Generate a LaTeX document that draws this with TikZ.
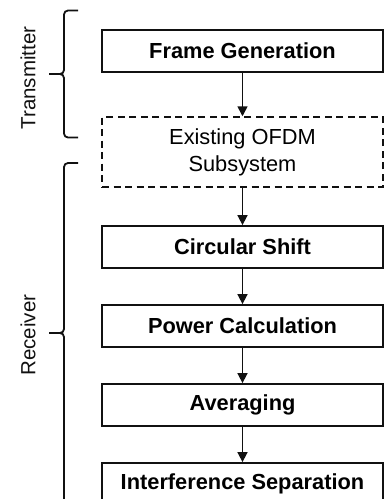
\documentclass[tikz,border=0pt]{standalone}
\usepackage{fontspec}
\setmainfont{Liberation Sans}
\usepackage{tikz}
\usetikzlibrary{
    arrows.meta,
    positioning
}
\definecolor{ink}{HTML}{111111}

\begin{document}
\begin{tikzpicture}[
    x=1pt, y=1pt,
    line cap=butt, line join=miter,
    >={Triangle[length=10pt, width=10pt]},
    %% --- semantic styles ---
    stagebox/.style   = {rectangle, draw=ink, fill=white, line width=1.8pt,
                         minimum width=281pt, minimum height=42pt,
                         inner sep=0pt, align=center,
                         font=\fontsize{21.8}{25}\selectfont\bfseries},
    legacybox/.style  = {rectangle, draw=ink, fill=white, line width=1.5pt,
                         dash pattern=on 7pt off 4.5pt,
                         minimum width=281pt, minimum height=70pt,
                         inner sep=0pt, align=center,
                         font=\fontsize{21.8}{27}\selectfont},
    stageflow/.style  = {->, draw=ink, line width=1.6pt},
    sidebrace/.style  = {draw=ink, line width=1.8pt, rounded corners=4pt},
    sidelabel/.style  = {rotate=90, text=ink, inner sep=0pt,
                         font=\fontsize{20.5}{24}\selectfont}
]

\useasboundingbox (0,0) rectangle (385,-499);
\clip (0,0) rectangle (385,-499);

%% =====================================================
%% Processing chain
%% =====================================================
\node[stagebox]  (FG)  at (242.5, -51)  {Frame Generation};
\node[legacybox] (OFDM) at (242.5, -152) {Existing OFDM\\Subsystem};
\node[stagebox]  (CS)  at (242.5, -247) {Circular Shift};
\node[stagebox]  (PC)  at (242.5, -326) {Power Calculation};
\node[stagebox]  (AV)  at (242.5, -405) {Averaging};
\node[stagebox]  (IS)  at (242.5, -484) {Interference Separation};

\foreach \A/\B in {FG/OFDM, OFDM/CS, CS/PC, PC/AV, AV/IS}
    \draw[stageflow] (\A.south) -- (\B.north);

%% =====================================================
%% Transmitter / receiver grouping (hand-drawn braces)
%% =====================================================
\coordinate (TXhi)  at (78, -10.5);
\coordinate (TXlo)  at (78, -137.5);
\coordinate (TXtip) at (49, -74);
\coordinate (RXhi)  at (78, -163);
\coordinate (RXlo)  at (78, -503);
\coordinate (RXtip) at (49, -333);

\foreach \hi/\lo/\tip in {TXhi/TXlo/TXtip, RXhi/RXlo/RXtip} {
    \draw[sidebrace] (\hi) -- ++(-14,0) -- ([xshift=15pt]\tip) -- (\tip);
    \draw[sidebrace] (\lo) -- ++(-14,0) -- ([xshift=15pt]\tip) -- (\tip);
}

\node[sidelabel] (TX) at (28, -78)  {Transmitter};
\node[sidelabel] (RX) at (28, -335) {Receiver};

\end{tikzpicture}
\end{document}
